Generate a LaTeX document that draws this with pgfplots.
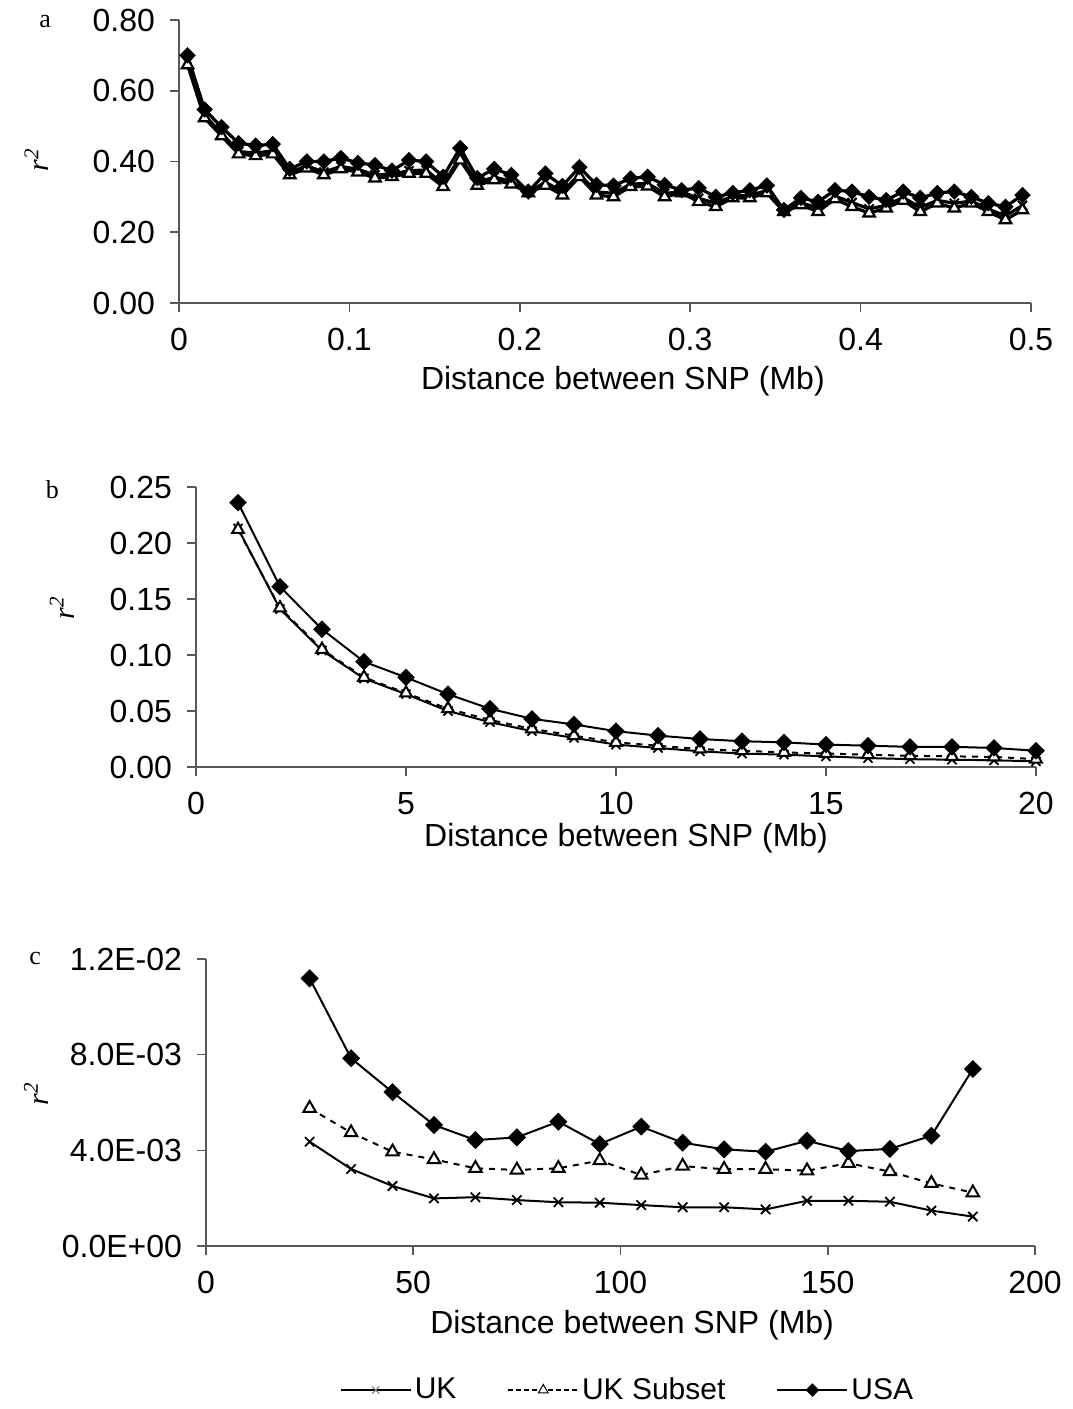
\documentclass[border=0pt]{standalone}
\usepackage{pgfplots}
\pgfplotsset{compat=1.18}
\usepackage{pgfplotstable}
\usepackage{fontspec}
\setmainfont{Liberation Sans}
\newfontfamily\seriffont{Liberation Serif}
\definecolor{axgray}{HTML}{585858}

\pgfplotstableread{
x usa sub uk
0.005 0.700 0.673 0.680
0.015 0.547 0.523 0.530
0.025 0.497 0.472 0.480
0.035 0.452 0.421 0.428
0.045 0.445 0.416 0.424
0.055 0.449 0.421 0.430
0.065 0.379 0.362 0.368
0.075 0.400 0.381 0.388
0.085 0.400 0.362 0.370
0.095 0.410 0.379 0.386
0.105 0.396 0.370 0.378
0.115 0.390 0.353 0.362
0.125 0.374 0.357 0.364
0.135 0.404 0.366 0.374
0.145 0.400 0.366 0.376
0.155 0.357 0.329 0.336
0.165 0.438 0.404 0.412
0.175 0.353 0.332 0.340
0.185 0.379 0.348 0.356
0.195 0.362 0.336 0.344
0.205 0.315 0.311 0.313
0.215 0.366 0.332 0.342
0.225 0.331 0.305 0.314
0.235 0.384 0.357 0.364
0.245 0.334 0.305 0.314
0.255 0.332 0.300 0.310
0.265 0.352 0.329 0.336
0.275 0.357 0.330 0.338
0.285 0.334 0.300 0.310
0.295 0.319 0.311 0.314
0.305 0.325 0.286 0.296
0.315 0.300 0.272 0.282
0.325 0.311 0.297 0.302
0.335 0.319 0.297 0.304
0.345 0.332 0.311 0.318
0.355 0.263 0.258 0.260
0.365 0.297 0.277 0.284
0.375 0.286 0.258 0.268
0.385 0.319 0.294 0.302
0.395 0.315 0.272 0.284
0.405 0.300 0.254 0.266
0.415 0.291 0.268 0.276
0.425 0.315 0.290 0.298
0.435 0.297 0.258 0.270
0.445 0.311 0.282 0.290
0.455 0.315 0.268 0.282
0.465 0.300 0.282 0.288
0.475 0.282 0.258 0.266
0.485 0.272 0.235 0.246
0.495 0.305 0.263 0.276
}\tabA

\pgfplotstableread{
x usa sub uk
1 0.236 0.212 0.213
2 0.161 0.142 0.141
3 0.123 0.105 0.104
4 0.094 0.080 0.079
5 0.080 0.066 0.065
6 0.065 0.052 0.050
7 0.052 0.042 0.040
8 0.043 0.034 0.032
9 0.038 0.028 0.026
10 0.032 0.022 0.020
11 0.028 0.019 0.017
12 0.025 0.016 0.014
13 0.023 0.0145 0.012
14 0.022 0.013 0.011
15 0.020 0.012 0.0095
16 0.019 0.011 0.008
17 0.018 0.010 0.007
18 0.018 0.0095 0.0065
19 0.017 0.009 0.006
20 0.0145 0.007 0.005
}\tabB

\pgfplotstableread{
x usa sub uk
25 0.01119 0.00576 0.00436
35 0.00785 0.00474 0.00322
45 0.00643 0.00394 0.00251
55 0.00506 0.00362 0.00199
65 0.00443 0.00325 0.00204
75 0.00454 0.00318 0.00192
85 0.00520 0.00325 0.00183
95 0.00426 0.00357 0.00181
105 0.00499 0.00297 0.00171
115 0.00432 0.00334 0.00162
125 0.00404 0.00321 0.00162
135 0.00394 0.00321 0.00153
145 0.00440 0.00315 0.00189
155 0.00397 0.00346 0.00189
165 0.00406 0.00311 0.00185
175 0.00461 0.00262 0.00148
185 0.00740 0.00223 0.00123
}\tabC

\pgfplotsset{
  ldstyle/.style={
    scale only axis,
    anchor=south west,
    axis x line=bottom, axis y line=left,
    axis line style={-, draw=axgray, line width=0.8pt},
    tick align=outside,
    major tick length=4.5pt,
    tick style={draw=axgray, line width=0.8pt},
    tick label style={font=\fontsize{16}{19}\selectfont},
    xticklabel style={yshift=-4.5pt},
    yticklabel style={xshift=-4pt},
    label style={font=\fontsize{16}{19}\selectfont},
    /pgf/number format/assume math mode=true,
    scaled ticks=false,
    clip=false,
  },
  legend image code/.code={\draw[mark repeat=2,mark phase=2,#1] plot coordinates {(0pt,0pt) (17.5pt,0pt) (35pt,0pt)};},
}
\newcommand{\rsq}{{\seriffont\fontsize{15}{18}\selectfont\itshape r\textsuperscript{2}}}

\begin{document}
\begin{tikzpicture}
\path[use as bounding box] (0,0) rectangle (536pt,704.5pt);

% ---------------- panel a
\begin{axis}[ldstyle, at={(89.5pt,553pt)}, width=426pt, height=141.5pt,
  xmin=0, xmax=0.5, ymin=0, ymax=0.8,
  xtick={0,0.1,0.2,0.3,0.4,0.5}, ytick={0,0.2,0.4,0.6,0.8},
  xticklabel style={/pgf/number format/.cd, fixed, precision=1},
  yticklabel style={/pgf/number format/.cd, fixed, fixed zerofill, precision=2},
  xlabel={Distance between SNP (Mb)},
  xlabel style={at={(rel axis cs:0.521,-0.276)}, anchor=center},
]
\addplot[black, line width=1.6pt, mark=x, mark size=3.2pt, mark options={line width=1pt}] table[x=x,y=uk] {\tabA};
\addplot[black, line width=1.6pt, mark=triangle*, mark size=3.3pt, mark options={fill=white, line width=1.1pt}] table[x=x,y=sub] {\tabA};
\addplot[black, line width=1.6pt, mark=square*, mark size=2.5pt, mark options={rotate=45, line width=0.8pt}] table[x=x,y=usa] {\tabA};
\node[font=\seriffont\fontsize{13}{16}\selectfont] at (rel axis cs:-0.157,0.993) {a};
\node[rotate=90] at (rel axis cs:-0.167,0.505) {\rsq};
\end{axis}

% ---------------- panel b
\begin{axis}[ldstyle, at={(98pt,321pt)}, width=420pt, height=140pt,
  xmin=0, xmax=20, ymin=0, ymax=0.25,
  xtick={0,5,10,15,20}, ytick={0,0.05,0.1,0.15,0.2,0.25},
  yticklabel style={/pgf/number format/.cd, fixed, fixed zerofill, precision=2},
  xlabel={Distance between SNP (Mb)},
  xlabel style={at={(rel axis cs:0.512,-0.254)}, anchor=center},
]
\addplot[black, line width=1pt, mark=x, mark size=3.2pt, mark options={line width=0.9pt}] table[x=x,y=uk] {\tabB};
\addplot[black, line width=1pt, dashed, mark=triangle*, mark size=3.4pt, mark options={solid, fill=white, line width=1pt}] table[x=x,y=sub] {\tabB};
\addplot[black, line width=1pt, mark=square*, mark size=2.6pt, mark options={rotate=45}] table[x=x,y=usa] {\tabB};
\node[font=\seriffont\fontsize{13}{16}\selectfont] at (rel axis cs:-0.171,0.989) {b};
\node[rotate=90] at (rel axis cs:-0.1595,0.568) {\rsq};
\end{axis}

% ---------------- panel c
\begin{axis}[ldstyle, at={(103pt,81.5pt)}, width=414.5pt, height=143.5pt,
  xmin=0, xmax=200, ymin=0, ymax=0.012,
  xtick={0,50,100,150,200}, ytick={0,0.004,0.008,0.012},
  yticklabels={0.0E+00,4.0E-03,8.0E-03,1.2E-02},
  xlabel={Distance between SNP (Mb)},
  xlabel style={at={(rel axis cs:0.514,-0.275)}, anchor=center},
  legend columns=3,
  legend style={at={(rel axis cs:0.509,-0.502)}, anchor=center, draw=none,
    font=\fontsize{15}{18}\selectfont,
    nodes={inner xsep=1.5pt},
    /tikz/every even column/.append style={column sep=24pt}},
]
\addplot[black, line width=1pt, mark=x, mark size=3.3pt, mark options={line width=0.9pt}, forget plot] table[x=x,y=uk] {\tabC};
\addplot[black, line width=1pt, dashed, mark=triangle*, mark size=3.6pt, mark options={solid, fill=white, line width=1pt}, forget plot] table[x=x,y=sub] {\tabC};
\addplot[black, line width=1pt, mark=square*, mark size=2.7pt, mark options={rotate=45}, forget plot] table[x=x,y=usa] {\tabC};
\addlegendimage{black, line width=1pt, mark=x, mark size=2.6pt, mark options={draw=gray, line width=0.5pt}}
\addlegendentry{UK}
\addlegendimage{black, line width=0.8pt, dash pattern=on 2.5pt off 1.5pt, mark=triangle*, mark size=2.8pt, mark options={solid, fill=white, line width=0.5pt}}
\addlegendentry{UK Subset}
\addlegendimage{black, line width=1pt, mark=square*, mark size=1.9pt, mark options={rotate=45}}
\addlegendentry{USA}
\node[font=\seriffont\fontsize{13}{16}\selectfont] at (rel axis cs:-0.206,1.003) {c};
\node[rotate=90] at (rel axis cs:-0.205,0.53) {\rsq};
\end{axis}
\end{tikzpicture}
\end{document}
